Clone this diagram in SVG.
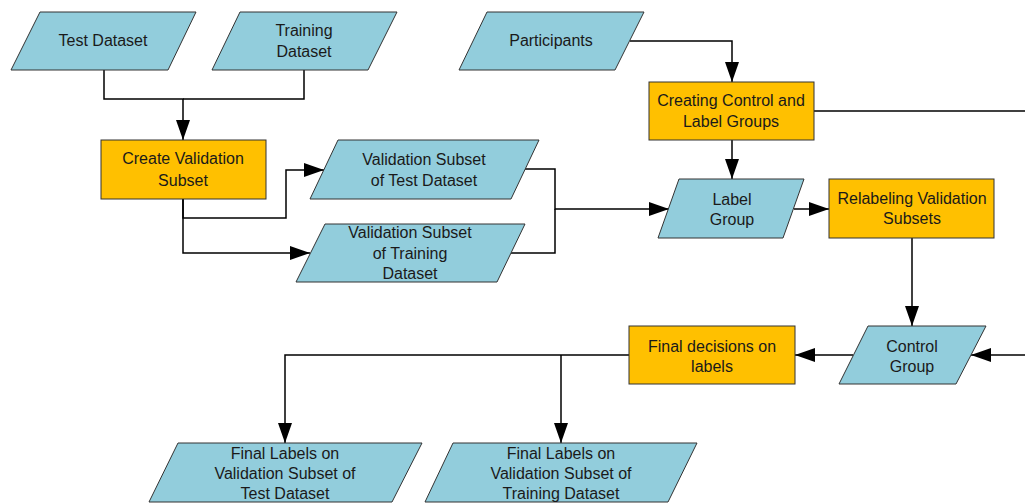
<svg xmlns="http://www.w3.org/2000/svg" width="1025" height="503" viewBox="0 0 1025 503">
<style>
.data{fill:#92CDDC;stroke:#333;stroke-width:1}
.proc{fill:#FFC000;stroke:#333;stroke-width:1}
text{font-family:"Liberation Sans",Arial,sans-serif;font-size:16px;fill:#1a1a1a;text-anchor:middle;dominant-baseline:central}
.conn path{fill:none;stroke:#000;stroke-width:1.5}
.arr{marker-end:url(#ah)}
</style>
<defs>
<marker id="ah" markerUnits="userSpaceOnUse" markerWidth="20" markerHeight="14" refX="20" refY="7" orient="auto">
<path d="M0,0 L20,7 L0,14 z" fill="#000"/>
</marker>
</defs>
<rect width="1025" height="503" fill="#fff"/>
<g id="connectors" class="conn">
<path class="arr" d="M104 70 V99 H183 V140"/>
<path d="M304 70 V99 H183"/>
<path class="arr" d="M183 199 V218 H286 V170 H324"/>
<path class="arr" d="M183 199 V253 H310"/>
<path class="arr" d="M525 169 H555 V209 H669"/>
<path d="M511 253 H555 V209"/>
<path class="arr" d="M630 41 H732 V82"/>
<path class="arr" d="M732 140 V179"/>
<path d="M814 111 H1025"/>
<path class="arr" d="M794 209 H829"/>
<path class="arr" d="M912 238 V326"/>
<path class="arr" d="M1025 355 H971"/>
<path class="arr" d="M853 355 H795"/>
<path class="arr" d="M629 355 H285 V443"/>
<path class="arr" d="M561 355 V443"/>
</g>
<g id="test-dataset">
<polygon class="data" points="40,12 196,12 168,70 11,70"/>
<text x="103" y="40">Test Dataset</text>
</g>
<g id="training-dataset">
<polygon class="data" points="240,12 397,12 368,70 212,70"/>
<text x="304" y="30">Training</text>
<text x="304" y="51">Dataset</text>
</g>
<g id="participants">
<polygon class="data" points="487,12 644,12 615,70 459,70"/>
<text x="551" y="40">Participants</text>
</g>
<g id="create-validation">
<rect class="proc" x="101" y="140" width="165" height="59"/>
<text x="183" y="158">Create Validation</text>
<text x="183" y="180">Subset</text>
</g>
<g id="val-test">
<polygon class="data" points="338,140 539,140 511,199 310,199"/>
<text x="424" y="159">Validation Subset</text>
<text x="424" y="180">of Test Dataset</text>
</g>
<g id="val-train">
<polygon class="data" points="325,224 525,224 497,282 296,282"/>
<text x="410" y="232">Validation Subset</text>
<text x="410" y="253">of Training</text>
<text x="410" y="273">Dataset</text>
</g>
<g id="creating-groups">
<rect class="proc" x="649" y="82" width="165" height="58"/>
<text x="731" y="100">Creating Control and</text>
<text x="731" y="121">Label Groups</text>
</g>
<g id="label-group">
<polygon class="data" points="679,179 804,179 783,238 658,238"/>
<text x="732" y="199">Label</text>
<text x="732" y="219">Group</text>
</g>
<g id="relabeling">
<rect class="proc" x="829" y="179" width="165" height="59"/>
<text x="912" y="198">Relabeling Validation</text>
<text x="912" y="218">Subsets</text>
</g>
<g id="control-group">
<polygon class="data" points="868,326 986,326 956,384 839,384"/>
<text x="912" y="346">Control</text>
<text x="912" y="366">Group</text>
</g>
<g id="final-decisions">
<rect class="proc" x="629" y="326" width="166" height="58"/>
<text x="712" y="346">Final decisions on</text>
<text x="712" y="366">labels</text>
</g>
<g id="final-test">
<polygon class="data" points="178,443 422,443 392,502 149,502"/>
<text x="285" y="453">Final Labels on</text>
<text x="285" y="473">Validation Subset of</text>
<text x="285" y="493">Test Dataset</text>
</g>
<g id="final-train">
<polygon class="data" points="453,443 697,443 668,502 425,502"/>
<text x="561" y="453">Final Labels on</text>
<text x="561" y="473">Validation Subset of</text>
<text x="561" y="493">Training Dataset</text>
</g>
</svg>
